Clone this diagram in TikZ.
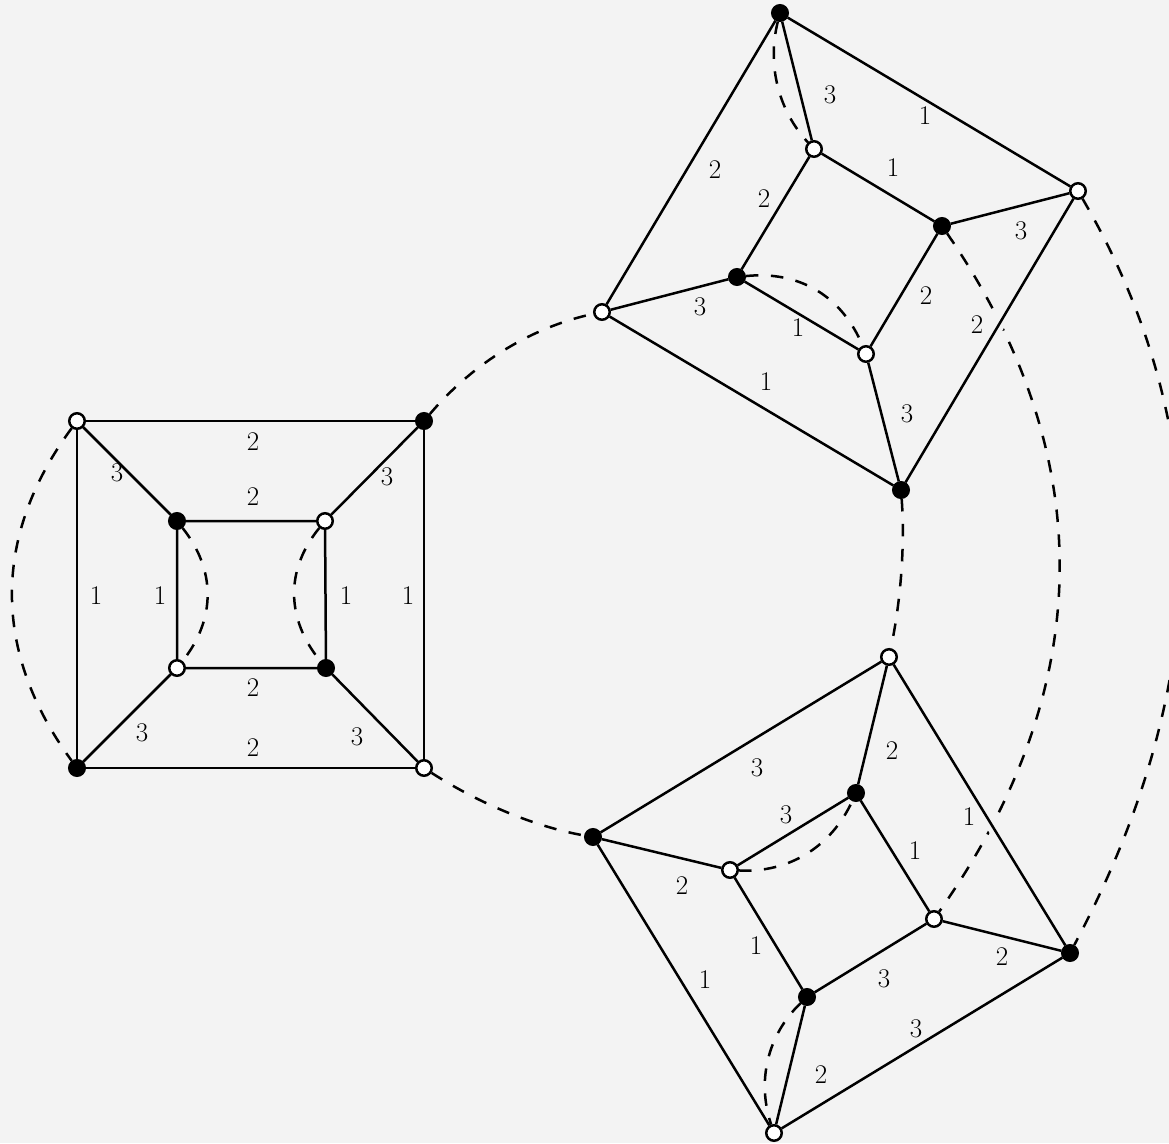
\documentclass[tikz,border=0pt]{standalone}
\usepackage{fontspec}
\definecolor{bgc}{HTML}{F3F3F3}
\pgfdeclarelayer{bg}
\pgfsetlayers{bg,main}
\begin{document}
\begin{tikzpicture}[x=1pt,y=-1pt,
  vtx/.style={circle,draw=black,line width=2.5pt,inner sep=0pt,minimum size=15.5pt},
  bv/.style={vtx,fill=black},
  wv/.style={vtx,fill=white},
  edge/.style={line width=2.5pt},
  link/.style={line width=2.5pt,dash pattern=on 12.5pt off 12.5pt},
  halo/.style={line width=12pt,draw=bgc,shorten <=28pt,shorten >=28pt},
  lab/.style={inner sep=0pt,font=\fontsize{27}{30}\selectfont}]
\useasboundingbox (0,0) rectangle (1169,1143);
% ---- left cube vertices
\node[wv] (L1) at (77,421) {};
\node[bv] (L2) at (424,421) {};
\node[wv] (L3) at (424,768) {};
\node[bv] (L4) at (77,768) {};
\node[bv] (l1) at (177,521) {};
\node[wv] (l2) at (325,521) {};
\node[bv] (l3) at (326,668) {};
\node[wv] (l4) at (177,668) {};
% ---- top cube vertices
\node[bv] (T1) at (780,13) {};
\node[wv] (T2) at (1078,191) {};
\node[bv] (T3) at (901,490) {};
\node[wv] (T4) at (602,312) {};
\node[wv] (t1) at (814,149) {};
\node[bv] (t2) at (942,226) {};
\node[wv] (t3) at (866,354) {};
\node[bv] (t4) at (737,277) {};
% ---- bottom cube vertices
\node[wv] (B1) at (889,657) {};
\node[bv] (B2) at (1070,953) {};
\node[wv] (B3) at (774,1133) {};
\node[bv] (B4) at (593,837) {};
\node[bv] (b1) at (856,793) {};
\node[wv] (b2) at (934,919) {};
\node[bv] (b3) at (807,997) {};
\node[wv] (b4) at (730,870) {};
% ---- labels left cube
\node[lab] (la1) at (253,442) {2};
\node[lab] (la2) at (253,497) {2};
\node[lab] (la3) at (253,688) {2};
\node[lab] (la4) at (253,748) {2};
\node[lab] (la5) at (96,596) {1};
\node[lab] (la6) at (160,596) {1};
\node[lab] (la7) at (346,596) {1};
\node[lab] (la8) at (408,596) {1};
\node[lab] (la9) at (117,473) {3};
\node[lab] (la10) at (387,477) {3};
\node[lab] (la11) at (142,733) {3};
\node[lab] (la12) at (357,737) {3};
% ---- labels top cube
\node[lab] (lt1) at (830,95) {3};
\node[lab] (lt2) at (925,116) {1};
\node[lab] (lt3) at (893,168) {1};
\node[lab] (lt4) at (715,170) {2};
\node[lab] (lt5) at (764,199) {2};
\node[lab] (lt6) at (1021,231) {3};
\node[lab] (lt7) at (926,296) {2};
\node[lab] (lt8) at (977,325) {2};
\node[lab] (lt9) at (700,307) {3};
\node[lab] (lt10) at (798,328) {1};
\node[lab] (lt11) at (766,382) {1};
\node[lab] (lt12) at (907,414) {3};
% ---- labels bottom cube
\node[lab] (lb1) at (757,768) {3};
\node[lab] (lb2) at (892,751) {2};
\node[lab] (lb3) at (786,815) {3};
\node[lab] (lb4) at (969,817) {1};
\node[lab] (lb5) at (915,851) {1};
\node[lab] (lb6) at (682,886) {2};
\node[lab] (lb7) at (756,946) {1};
\node[lab] (lb8) at (1002,957) {2};
\node[lab] (lb9) at (884,979) {3};
\node[lab] (lb10) at (705,980) {1};
\node[lab] (lb11) at (916,1029) {3};
\node[lab] (lb12) at (821,1075) {2};
\begin{pgfonlayer}{bg}
\fill[bgc] (0,0) rectangle (1169,1143);
% ---- dashed links
\draw[link] (L1) .. controls (-8,536) and (-8,652) .. (L4);
\draw[link] (l1) .. controls (216,570) and (216,619) .. (l4);
\draw[link] (l2) .. controls (285,570) and (286,619) .. (l3);
\draw[link] (L2) .. controls (473,363) and (532,327) .. (T4);
\draw[link] (L3) .. controls (480,804) and (536,827) .. (B4);
\draw[link] (T3) .. controls (905,544) and (901,600) .. (B1);
\draw[link] (T2) .. controls (1217,429) and (1214,683) .. (B2);
\draw[link] (t2) .. controls (1100,456) and (1097,688) .. (b2);
\draw[link] (T1) .. controls (767,64.5) and (778,110) .. (t1);
\draw[link] (t4) .. controls (799,270.5) and (842,296) .. (t3);
\draw[link] (b4) .. controls (789,873) and (831,847) .. (b1);
\draw[link] (b3) .. controls (767.5,1035) and (756.5,1081) .. (B3);
% ---- halos where links pass under edges
\draw[halo] (T2) -- (T3);
\draw[halo] (B1) -- (B2);
% ---- left cube edges
\draw[edge] (L1) -- (L2) -- (L3) -- (L4) -- (L1);
\draw[edge] (l1) -- (l2) -- (l3) -- (l4) -- (l1);
\draw[edge] (L1) -- (l1);
\draw[edge] (L2) -- (l2);
\draw[edge] (L3) -- (l3);
\draw[edge] (L4) -- (l4);
% ---- top cube edges
\draw[edge] (T1) -- (T2) -- (T3) -- (T4) -- (T1);
\draw[edge] (t1) -- (t2) -- (t3) -- (t4) -- (t1);
\draw[edge] (T1) -- (t1);
\draw[edge] (T2) -- (t2);
\draw[edge] (T3) -- (t3);
\draw[edge] (T4) -- (t4);
% ---- bottom cube edges
\draw[edge] (B1) -- (B2) -- (B3) -- (B4) -- (B1);
\draw[edge] (b1) -- (b2) -- (b3) -- (b4) -- (b1);
\draw[edge] (B1) -- (b1);
\draw[edge] (B2) -- (b2);
\draw[edge] (B3) -- (b3);
\draw[edge] (B4) -- (b4);
\end{pgfonlayer}
\end{tikzpicture}
\end{document}
